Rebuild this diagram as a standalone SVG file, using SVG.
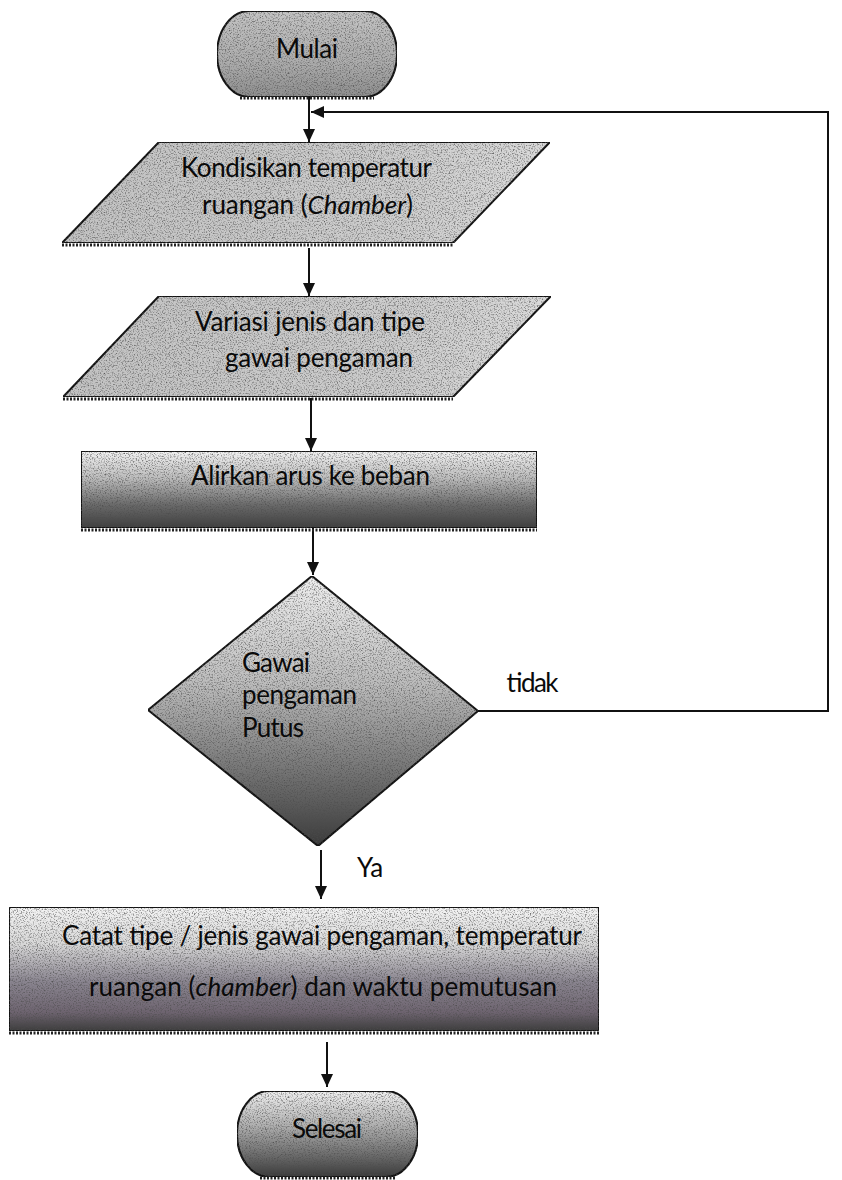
<svg xmlns="http://www.w3.org/2000/svg" width="842" height="1180" viewBox="0 0 842 1180">
  <style>
    .shape { stroke: #111; stroke-width: 2; stroke-linejoin: miter; }
    .hatch { fill: none; stroke: #222; stroke-width: 3; stroke-dasharray: 2 1.5; }
    .lbl { font-family: "Lato", "Liberation Sans", sans-serif; font-size: 26px; fill: #0a0a0a; }
    .mid { text-anchor: middle; }
    .conn { fill: none; stroke: #111; stroke-width: 2; }
  </style>
  <defs>
    <marker id="arrow" markerUnits="userSpaceOnUse" markerWidth="14" markerHeight="14" refX="13" refY="6" orient="auto">
      <path d="M0,0 L13,6 L0,12 z" fill="#111"/>
    </marker>
    <filter id="grain" x="0" y="0" width="100%" height="100%" color-interpolation-filters="sRGB">
      <feTurbulence type="fractalNoise" baseFrequency="0.75" numOctaves="2" seed="7" result="t"/>
      <feColorMatrix in="t" type="matrix" values="0 0 0 0 0.3  0 0 0 0 0.3  0 0 0 0 0.3  2.2 0 0 0 -1.05" result="speck"/>
      <feComposite in="speck" in2="SourceAlpha" operator="in" result="s2"/>
      <feMerge><feMergeNode in="SourceGraphic"/><feMergeNode in="s2"/></feMerge>
    </filter>
    <linearGradient id="gMulai" x1="0" y1="0" x2="0" y2="1">
      <stop offset="0" stop-color="#c4c4c4"/>
      <stop offset="0.6" stop-color="#acacac"/>
      <stop offset="1" stop-color="#8e8e8e"/>
    </linearGradient>
    <linearGradient id="gPara" x1="0" y1="0" x2="1" y2="0">
      <stop offset="0" stop-color="#c2c2c2"/>
      <stop offset="0.7" stop-color="#cdcdcd"/>
      <stop offset="1" stop-color="#dadada"/>
    </linearGradient>
    <linearGradient id="gDark" x1="0" y1="0" x2="0" y2="1">
      <stop offset="0" stop-color="#f2f2f2"/>
      <stop offset="0.35" stop-color="#bdbdbd"/>
      <stop offset="0.7" stop-color="#6a6a6a"/>
      <stop offset="1" stop-color="#3e3e3e"/>
    </linearGradient>
    <linearGradient id="gDiamond" x1="0" y1="0" x2="0" y2="1">
      <stop offset="0" stop-color="#efefef"/>
      <stop offset="0.4" stop-color="#bcbcbc"/>
      <stop offset="0.75" stop-color="#6f6f6f"/>
      <stop offset="1" stop-color="#3a3a3a"/>
    </linearGradient>
    <linearGradient id="gCatat" x1="0" y1="0" x2="0" y2="1">
      <stop offset="0" stop-color="#f4f4f4"/>
      <stop offset="0.3" stop-color="#d8d8d8"/>
      <stop offset="0.6" stop-color="#8a8590"/>
      <stop offset="0.85" stop-color="#6e6470"/>
      <stop offset="1" stop-color="#3c3c3c"/>
    </linearGradient>
    <linearGradient id="gSelesai" x1="0" y1="0" x2="0" y2="1">
      <stop offset="0" stop-color="#f0f0f0"/>
      <stop offset="0.4" stop-color="#b0b0b0"/>
      <stop offset="1" stop-color="#3a3a3a"/>
    </linearGradient>
  </defs>

  <rect width="842" height="1180" fill="#ffffff"/>

  <g id="connectors">
    <line class="conn" x1="309" y1="97" x2="309" y2="142" marker-end="url(#arrow)"/>
    <polyline class="conn" points="478,711 828,711 828,112 311,112" marker-end="url(#arrow)"/>
    <line class="conn" x1="309" y1="248" x2="309" y2="296" marker-end="url(#arrow)"/>
    <line class="conn" x1="311" y1="398" x2="311" y2="451" marker-end="url(#arrow)"/>
    <line class="conn" x1="313" y1="528" x2="313" y2="575" marker-end="url(#arrow)"/>
    <line class="conn" x1="321" y1="850" x2="321" y2="899" marker-end="url(#arrow)"/>
    <line class="conn" x1="327" y1="1042" x2="327" y2="1087" marker-end="url(#arrow)"/>
    <text class="lbl" x="505" y="692" textLength="52">tidak</text>
    <text class="lbl" x="357" y="877">Ya</text>
  </g>

  <g id="node-mulai">
    <rect class="shape" x="217" y="11" width="180" height="86" rx="32" ry="43" fill="url(#gMulai)" filter="url(#grain)"/>
    <line class="hatch" x1="240" y1="98" x2="374" y2="98"/>
    <text class="lbl mid" x="307" y="58" textLength="62">Mulai</text>
  </g>

  <g id="node-kondisikan">
    <polygon class="shape" points="159,142 550,142 453,243 62,243" fill="url(#gPara)" filter="url(#grain)"/>
    <line class="hatch" x1="62" y1="245" x2="453" y2="245"/>
    <text class="lbl" x="181" y="177" textLength="251">Kondisikan temperatur</text>
    <text class="lbl" x="202" y="214" textLength="211">ruangan (<tspan font-style="italic">Chamber</tspan>)</text>
  </g>

  <g id="node-variasi">
    <polygon class="shape" points="159,296 551,296 453,397 63,397" fill="url(#gPara)" filter="url(#grain)"/>
    <line class="hatch" x1="63" y1="399" x2="453" y2="399"/>
    <text class="lbl" x="195" y="331" textLength="230">Variasi jenis dan tipe</text>
    <text class="lbl" x="225" y="367" textLength="188">gawai pengaman</text>
  </g>

  <g id="node-alirkan">
    <rect class="shape" x="81" y="451" width="456" height="77" fill="url(#gDark)" filter="url(#grain)"/>
    <line class="hatch" x1="81" y1="530" x2="537" y2="530"/>
    <text class="lbl" x="191" y="485" textLength="239">Alirkan arus ke beban</text>
  </g>

  <g id="node-gawai">
    <polygon class="shape" points="312,576 478,711 318,846 148,710" fill="url(#gDiamond)" filter="url(#grain)"/>
    <text class="lbl" x="242" y="672" textLength="68">Gawai</text>
    <text class="lbl" x="242" y="704" textLength="115">pengaman</text>
    <text class="lbl" x="242" y="737" textLength="62">Putus</text>
  </g>

  <g id="node-catat">
    <rect class="shape" x="9" y="907" width="590" height="124" fill="url(#gCatat)" filter="url(#grain)"/>
    <line class="hatch" x1="9" y1="1033" x2="599" y2="1033"/>
    <text class="lbl" x="62" y="945" textLength="520">Catat tipe / jenis gawai pengaman, temperatur</text>
    <text class="lbl" x="89" y="996" textLength="468">ruangan (<tspan font-style="italic">chamber</tspan>) dan waktu pemutusan</text>
  </g>

  <g id="node-selesai">
    <rect class="shape" x="237" y="1091" width="181" height="86" rx="32" ry="43" fill="url(#gSelesai)" filter="url(#grain)"/>
    <line class="hatch" x1="260" y1="1178" x2="395" y2="1178"/>
    <text class="lbl mid" x="327" y="1138" textLength="70">Selesai</text>
  </g>
</svg>
